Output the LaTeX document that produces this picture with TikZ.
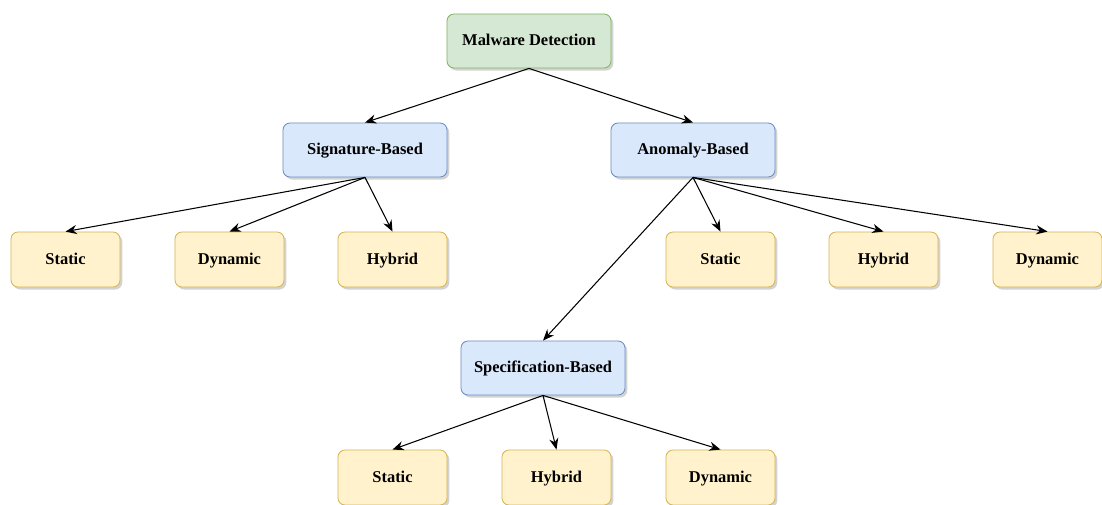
\documentclass[tikz,border=0pt]{standalone}
\usepackage{fontspec}
\setmainfont{Liberation Serif}
\usetikzlibrary{arrows.meta,shadows}

\tikzset{
  box/.style={draw, rounded corners=5pt, line width=0.6pt, align=center,
    font=\fontsize{11.7}{13}\selectfont\bfseries, text height=9pt, text depth=2pt,
    drop shadow={opacity=0.35, shadow xshift=1.6pt, shadow yshift=-1.8pt}},
  rootbox/.style={box,
    fill={rgb,255:red,213;green,232;blue,212}, draw={rgb,255:red,130;green,179;blue,102},
    minimum width=4.1cm, minimum height=1.35cm},
  typebox/.style={box, fill={rgb,255:red,218;green,232;blue,252}, draw={rgb,255:red,108;green,142;blue,191},
    minimum width=4.1cm, minimum height=1.35cm},
  leafbox/.style={box, fill={rgb,255:red,255;green,242;blue,204}, draw={rgb,255:red,214;green,182;blue,86},
    minimum width=2.725cm, minimum height=1.375cm},
  link/.style={-{Stealth[length=8pt,width=6.5pt]}, line width=0.75pt, black}
}

\begin{document}
\begin{tikzpicture}[x=0.025cm, y=-0.025cm]
    \useasboundingbox (0,0) rectangle (1102,505);

    \node[rootbox] (root) at (529,41) {Malware Detection};

    \node[typebox] (sig)  at (365,150) {Signature-Based};
    \node[typebox] (anom) at (693,150) {Anomaly-Based};
    \node[typebox] (spec) at (543,368) {Specification-Based};

    % signature
    \node[leafbox] (sigstatic)  at (65.5,259.5)  {Static};
    \node[leafbox] (sigdynamic) at (229.5,259.5) {Dynamic};
    \node[leafbox] (sighybrid)  at (392.5,259.5) {Hybrid};

    % anomaly
    \node[leafbox] (anomstatic)  at (720.5,259.5)  {Static};
    \node[leafbox] (anomhybrid)  at (883.5,259.5)  {Hybrid};
    \node[leafbox] (anomdynamic) at (1047.5,259.5) {Dynamic};

    % specification
    \node[leafbox] (specstatic)  at (392.5,477.5) {Static};
    \node[leafbox] (spechybrid)  at (556.5,477.5) {Hybrid};
    \node[leafbox] (specdynamic) at (720.5,477.5) {Dynamic};

    \draw[link] (root.south) -- (sig.north);
    \draw[link] (root.south) -- (anom.north);

    \foreach \c in {sigstatic,sigdynamic,sighybrid}
    \draw[link] (sig.south) -- (\c.north);

    \foreach \c in {anomstatic,anomhybrid,anomdynamic,spec}
    \draw[link] (anom.south) -- (\c.north);

    \foreach \c in {specstatic,spechybrid,specdynamic}
    \draw[link] (spec.south) -- (\c.north);

\end{tikzpicture}
\end{document}
